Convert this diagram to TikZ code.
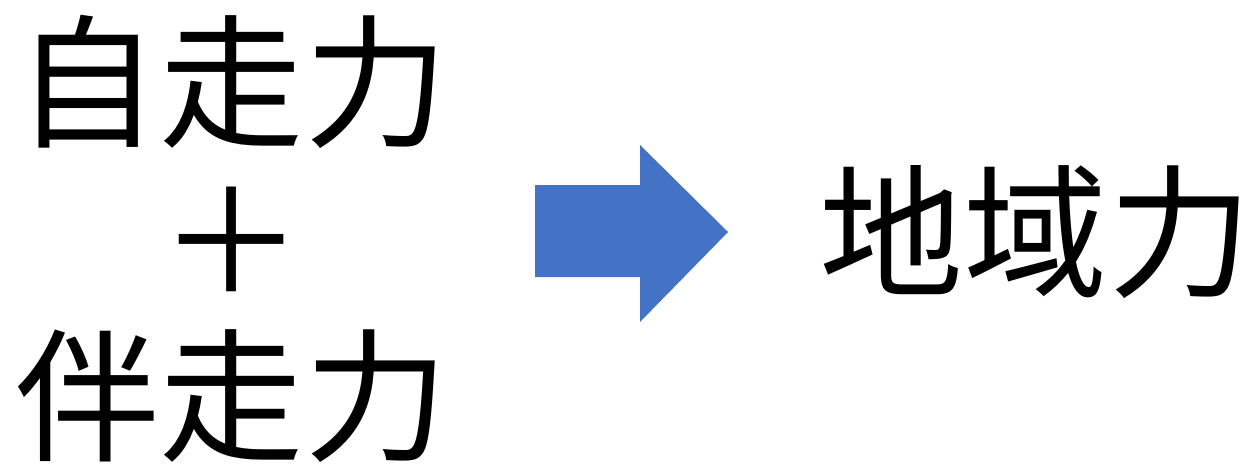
\documentclass[tikz,border=0pt]{standalone}
\usepackage{fontspec}
\newfontfamily\cjk{Noto Sans CJK JP}
\definecolor{arrowblue}{HTML}{4472C4}
\begin{document}
\begin{tikzpicture}[x=0.02cm,y=-0.02cm,
  word/.style={inner sep=0pt,font=\cjk\fontsize{82pt}{82pt}\selectfont}]
\useasboundingbox (0,0) rectangle (1257,466);
\node[word] (a) at (232,82) {自走力};
\node[word] (p) at (232,240) {＋};
\node[word] (b) at (232,396) {伴走力};
\node[word] (c) at (1036,232) {地域力};
\coordinate (s) at (535,232);
\coordinate (t) at (728,232);
\fill[arrowblue] (535,185) -- (640,185) -- (640,145) -- (t) -- (640,322) -- (640,277) -- (535,277) -- cycle;
\end{tikzpicture}
\end{document}
